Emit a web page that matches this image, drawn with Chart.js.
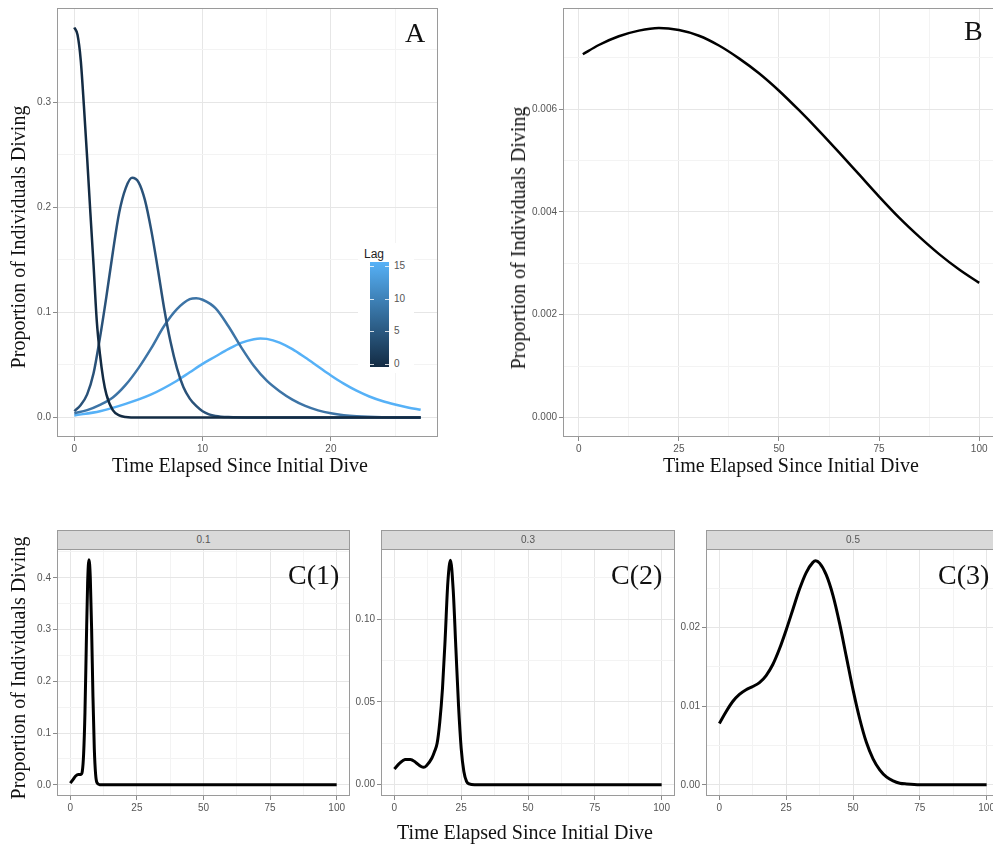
<!DOCTYPE html>
<html>
<head>
<meta charset="utf-8">
<script src="https://cdn.jsdelivr.net/npm/chart.js@4.4.1/dist/chart.umd.min.js"></script>
<style>
  body { margin: 0; width: 993px; height: 848px; overflow: hidden; background: #fff; position: relative; }
  canvas { position: absolute; }
  .t { position: absolute; font-family: "Liberation Serif", serif; color: #111; white-space: nowrap; line-height: 1; }
  .ytitle { font-size: 20px; transform: translate(-50%, -50%) rotate(-90deg); }
  .xtitle { font-size: 20px; transform: translate(-50%, -50%); }
  .tag { font-size: 28px; }
  .strip { position: absolute; top: 530px; height: 20px; background: #d9d9d9; border: 1px solid #9a9a9a; box-sizing: border-box;
           font: 10px "Liberation Sans", sans-serif; color: #555; text-align: center; line-height: 18px; }
  .leg { position: absolute; font: 10px "Liberation Sans", sans-serif; color: #555; line-height: 10px; }
</style>
</head>
<body>
<canvas id="chartA" width="440" height="460" style="left:0;top:0"></canvas>
<canvas id="chartB" width="500" height="460" style="left:500px;top:0"></canvas>
<canvas id="chartC1" width="360" height="290" style="left:0;top:540px"></canvas>
<canvas id="chartC2" width="340" height="290" style="left:340px;top:540px"></canvas>
<canvas id="chartC3" width="335" height="290" style="left:665px;top:540px"></canvas>

<div class="strip" style="left:57px;width:293px">0.1</div>
<div class="strip" style="left:381px;width:294px">0.3</div>
<div class="strip" style="left:706px;width:294px">0.5</div>

<div class="t tag" style="left:405px;top:19px">A</div>
<div class="t tag" style="left:964px;top:17px">B</div>
<div class="t tag" style="left:288px;top:561px">C(1)</div>
<div class="t tag" style="left:611px;top:561px">C(2)</div>
<div class="t tag" style="left:938px;top:561px">C(3)</div>

<div class="t ytitle" style="left:18px;top:237px">Proportion of Individuals Diving</div>
<div class="t xtitle" style="left:240px;top:465px">Time Elapsed Since Initial Dive</div>
<div class="t ytitle" style="left:518px;top:238px">Proportion of Individuals Diving</div>
<div class="t xtitle" style="left:791px;top:465px">Time Elapsed Since Initial Dive</div>
<div class="t ytitle" style="left:18px;top:668px">Proportion of Individuals Diving</div>
<div class="t xtitle" style="left:525px;top:832px">Time Elapsed Since Initial Dive</div>

<!-- Lag colour bar -->
<div style="position:absolute;left:358px;top:243px;width:56px;height:130px;background:#fff"></div>
<div style="position:absolute;left:364px;top:248px;font:12px 'Liberation Sans',sans-serif;color:#222;line-height:12px">Lag</div>
<div id="bar" style="position:absolute;left:370px;top:262px;width:19px;height:105px;background:linear-gradient(to bottom,#56B1F7,#132B43)"></div>
<div id="barLabels"></div>

<script>
// Panel A: density by lag
const lags = [0, 5, 10, 15]
const lagColors = ['#132B43', '#2A5279', '#3D74A6', '#56B1F7']

const tA0 = [0, 0.25, 0.5, 0.75, 1, 1.25, 1.5, 1.75, 2, 2.25, 2.5, 3, 3.5, 4, 5, 8, 12, 18, 27]
const vA0 = [0.371, 0.364, 0.340, 0.296, 0.247, 0.195, 0.145, 0.092, 0.060, 0.037, 0.022, 0.007, 0.002, 0.0005, 0, 0, 0, 0, 0]

const tA5 = [0, 0.5, 1, 1.5, 2, 2.5, 3, 3.5, 4, 4.5, 5, 5.5, 6, 6.5, 7, 7.5, 8, 8.5, 9, 9.5, 10, 10.5, 11, 12, 14, 20, 27]
const vA5 = [0.006, 0.012, 0.022, 0.042, 0.076, 0.115, 0.157, 0.195, 0.218, 0.228, 0.224, 0.207, 0.178, 0.142, 0.104, 0.072,
             0.047, 0.029, 0.018, 0.011, 0.006, 0.003, 0.0015, 0.0004, 0, 0, 0]

const tA10 = [0, 1, 2, 3, 4, 5, 6, 7, 8, 9, 9.5, 10, 11, 12, 13, 14, 15, 16, 17, 18, 19, 20, 21, 22, 24, 27]
const vA10 = [0.004, 0.007, 0.012, 0.019, 0.031, 0.047, 0.066, 0.087, 0.103, 0.1125, 0.1135, 0.112, 0.104, 0.087, 0.067, 0.049,
              0.035, 0.025, 0.017, 0.011, 0.0068, 0.004, 0.0022, 0.0012, 0.0003, 0]

const tA15 = [0, 2, 4, 6, 8, 9, 10, 11, 12, 13, 14, 14.5, 15, 16, 17, 18, 19, 20, 21, 22, 23, 24, 25, 26, 27]
const vA15 = [0.002, 0.006, 0.013, 0.022, 0.035, 0.043, 0.051, 0.058, 0.065, 0.071, 0.0745, 0.0752, 0.0748, 0.0712, 0.0650,
              0.0570, 0.0485, 0.0400, 0.0322, 0.0255, 0.0200, 0.0157, 0.0124, 0.0096, 0.0073]

// Panel B
const tB = [1, 5, 10, 15, 20, 25, 30, 35, 40, 45, 50, 55, 60, 65, 70, 75, 80, 85, 90, 95, 100]
const vB = [0.00707, 0.00725, 0.00742, 0.00753, 0.00758, 0.00754, 0.00743, 0.00724, 0.00699, 0.00670, 0.00636,
            0.00598, 0.00558, 0.00516, 0.00473, 0.00430, 0.00389, 0.00352, 0.00318, 0.00288, 0.00262]

// Panels C(1), C(2), C(3)
const tC1 = [0, 1, 2, 3, 4, 4.5, 5, 5.5, 6, 6.5, 7, 7.5, 8, 8.5, 9, 9.5, 10, 11, 12, 100]
const vC1 = [0.003, 0.010, 0.017, 0.020, 0.020, 0.026, 0.060, 0.140, 0.270, 0.390, 0.435, 0.400, 0.300, 0.170, 0.070, 0.020, 0.004, 0, 0, 0]

const tC2 = [0, 2, 4, 6, 8, 10, 11, 12, 14, 15, 16, 17, 18, 19, 20, 21, 22, 23, 24, 25, 26, 27, 28, 30, 100]
const vC2 = [0.0095, 0.0130, 0.0152, 0.0153, 0.0135, 0.0110, 0.0105, 0.0115, 0.0160, 0.0200, 0.0250, 0.0380, 0.0580, 0.0880,
             0.1220, 0.1356, 0.1180, 0.0830, 0.0480, 0.0220, 0.0080, 0.0020, 0.0005, 0, 0]

const tC3 = [0, 2.5, 5, 7.5, 10, 12.5, 15, 17.5, 20, 22.5, 25, 27.5, 30, 32.5, 35, 36, 37.5, 40, 42.5, 45, 47.5, 50, 52.5, 55, 57.5, 60, 62.5, 65, 67.5, 70, 75, 100]
const vC3 = [0.0078, 0.0093, 0.0106, 0.0115, 0.0121, 0.0125, 0.0130, 0.0139, 0.0153, 0.0173, 0.0197, 0.0223, 0.0249, 0.0270, 0.0283,
             0.0285, 0.0282, 0.0267, 0.0241, 0.0205, 0.0163, 0.0121, 0.0084, 0.0054, 0.0033, 0.0019, 0.0010, 0.0005, 0.0002, 0.0001, 0, 0]

// tick values and labels
const xMajA = [0, 10, 20], xLabA = ['0', '10', '20'], xMinA = [5, 15, 25]
const yMajA = [0, 0.1, 0.2, 0.3], yLabA = ['0.0', '0.1', '0.2', '0.3'], yMinA = [0.05, 0.15, 0.25, 0.35]
const xMaj100 = [0, 25, 50, 75, 100], xLab100 = ['0', '25', '50', '75', '100'], xMin100 = [12.5, 37.5, 62.5, 87.5]
const yMajB = [0, 0.002, 0.004, 0.006], yLabB = ['0.000', '0.002', '0.004', '0.006'], yMinB = [0.001, 0.003, 0.005, 0.007]
const yMajC1 = [0, 0.1, 0.2, 0.3, 0.4], yLabC1 = ['0.0', '0.1', '0.2', '0.3', '0.4'], yMinC1 = [0.05, 0.15, 0.25, 0.35, 0.45]
const yMajC2 = [0, 0.05, 0.10], yLabC2 = ['0.00', '0.05', '0.10'], yMinC2 = [0.025, 0.075, 0.125]
const yMajC3 = [0, 0.01, 0.02], yLabC3 = ['0.00', '0.01', '0.02'], yMinC3 = [0.005, 0.015, 0.025]

const frame = {
  id: 'frame',
  afterDraw(chart) {
    const { ctx, chartArea: a } = chart
    ctx.save()
    ctx.strokeStyle = '#9a9a9a'
    ctx.lineWidth = 1
    ctx.strokeRect(a.left + 0.5, a.top + 0.5, a.right - a.left - 1, a.bottom - a.top - 1)
    ctx.restore()
  }
}

function axis(min, max, majors, labels, minors, isY) {
  const all = majors.concat(minors).sort((a, b) => a - b)
  const major = c => c.tick && majors.includes(c.tick.value)
  return {
    type: 'linear', min: min, max: max,
    afterBuildTicks: s => { s.ticks = all.map(v => ({ value: v })) },
    afterFit: s => { if (isY) s.width = 40; else s.height = 18 },
    border: { display: false },
    grid: {
      color: c => major(c) ? '#e6e6e6' : '#f3f3f3',
      lineWidth: 1,
      tickLength: 4,
      tickColor: c => major(c) ? '#8a8a8a' : 'rgba(0,0,0,0)'
    },
    ticks: {
      autoSkip: false, maxRotation: 0, padding: 2, color: '#555',
      font: { family: 'Liberation Sans', size: 10 },
      callback: v => { let i = majors.indexOf(v); return i < 0 ? '' : labels[i] }
    }
  }
}

function panel(id, xs, ys, colors, width, xAx, yAx, pad) {
  new Chart(document.getElementById(id), {
    type: 'line',
    data: {
      datasets: ys.map((y, i) => ({
        data: xs[i].map((x, j) => ({ x: x, y: y[j] })),
        borderColor: colors[i],
        borderWidth: width,
        pointRadius: 0,
        cubicInterpolationMode: 'monotone',
        fill: false
      }))
    },
    options: {
      responsive: false, animation: false, events: [],
      layout: { padding: pad },
      plugins: { legend: { display: false }, tooltip: { enabled: false } },
      scales: { x: xAx, y: yAx }
    },
    plugins: [frame]
  })
}

panel('chartA', [tA0, tA5, tA10, tA15], [vA0, vA5, vA10, vA15], lagColors, 2.5,
  axis(-1.35, 28.35, xMajA, xLabA, xMinA, false),
  axis(-0.01855, 0.38955, yMajA, yLabA, yMinA, true),
  { left: 17, top: 5, right: 2, bottom: 5 })

panel('chartB', [tB], [vB], ['#000'], 2.5,
  axis(-3.95, 104.95, xMaj100, xLab100, xMin100, false),
  axis(-0.00038, 0.00797, yMajB, yLabB, yMinB, true),
  { left: 23, top: 5, right: 1, bottom: 5 })

panel('chartC1', [tC1], [vC1], ['#000'], 3,
  axis(-5, 105, xMaj100, xLab100, xMin100, false),
  axis(-0.0217, 0.4557, yMajC1, yLabC1, yMinC1, true),
  { left: 17, top: 9, right: 10, bottom: 16 })

panel('chartC2', [tC2], [vC2], ['#000'], 3,
  axis(-5, 105, xMaj100, xLab100, xMin100, false),
  axis(-0.0068, 0.1424, yMajC2, yLabC2, yMinC2, true),
  { left: 1, top: 9, right: 5, bottom: 16 })

panel('chartC3', [tC3], [vC3], ['#000'], 3,
  axis(-5, 105, xMaj100, xLab100, xMin100, false),
  axis(-0.00143, 0.0300, yMajC3, yLabC3, yMinC3, true),
  { left: 1, top: 9, right: 0, bottom: 16 })

// colour bar labels for lag
const barTop = 266, barBottom = 364
const holder = document.getElementById('barLabels')
lags.forEach(l => {
  const y = barBottom - (barBottom - barTop) * l / 15
  const lab = document.createElement('div')
  lab.className = 'leg'
  lab.style.left = '394px'
  lab.style.top = (y - 5) + 'px'
  lab.textContent = String(l)
  holder.appendChild(lab)
  ;[370, 385].forEach(x => {
    const m = document.createElement('div')
    m.style.cssText = 'position:absolute;width:4px;height:1px;background:rgba(255,255,255,0.8);left:' + x + 'px;top:' + Math.round(y) + 'px'
    holder.appendChild(m)
  })
})
</script>
</body>
</html>
